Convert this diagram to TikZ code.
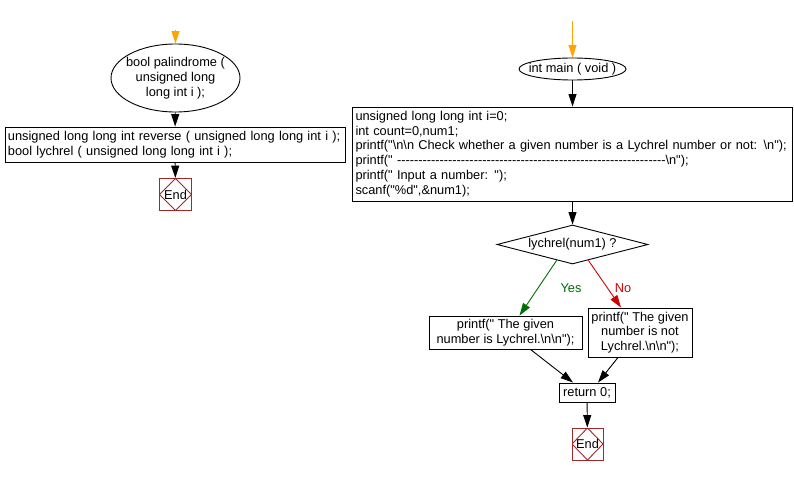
\documentclass[tikz,border=0pt]{standalone}
\usepackage{fontspec}
\setmainfont{Liberation Sans}[Ligatures=TeXOff]
\usetikzlibrary{shapes.geometric,arrows.meta,calc}

\definecolor{endred}{RGB}{160,40,40}
\definecolor{startorange}{RGB}{255,165,0}
\definecolor{yesgreen}{RGB}{0,110,0}
\definecolor{nored}{RGB}{210,0,0}
\newcommand{\bsn}{\textbackslash n}

\begin{document}
\begin{tikzpicture}[x=1pt, y=-1pt, line width=0.9pt,
    font=\fontsize{12.8}{14.7}\selectfont,
    box/.style={draw, inner ysep=0pt, inner xsep=3pt, align=left},
    term/.style={draw, ellipse, inner ysep=0pt, align=center},
    decide/.style={draw, diamond, aspect=4, inner sep=0pt,
                   minimum width=151pt, minimum height=39pt},
    stopbox/.style={draw=endred, minimum width=32pt, minimum height=32pt, inner sep=0pt,
        path picture={\draw[endred] (path picture bounding box.north) -- (path picture bounding box.east)
            -- (path picture bounding box.south) -- (path picture bounding box.west) -- cycle;}},
    arr/.style={-{Triangle[length=12.5pt,width=8pt]}}
]
    \useasboundingbox (0,0) rectangle (794,476);

    % left part: palindrome
    \coordinate (lstart) at (175.5,30);
    \node[term, inner xsep=-4.5pt, minimum width=129pt, minimum height=68pt] (pal) at (175.5,78)
        {bool palindrome (\\unsigned long\\long int i );};
    \node[box, text width=334pt, minimum height=35pt] (decl) at (175,144.5)
        {unsigned long long int reverse ( unsigned long long int i );\\
         bool lychrel ( unsigned long long int i );};
    \node[stopbox] (end1) at (175.5,194.5) {End};

    \draw[arr, startorange] (lstart) -- (pal);
    \draw[arr] (pal) -- (decl);
    \draw[arr] (decl) -- (end1);

    % right part: main
    \coordinate (mstart) at (572.5,21);
    \node[term, inner xsep=-6pt, minimum width=107pt, minimum height=22pt] (main) at (572.5,69)
        {int main ( void )};
    \node[box, text width=434pt, minimum height=94pt] (init) at (572.5,154)
        {unsigned long long int i=0;\\
         int count=0,num1;\\
         printf("\bsn\bsn{} Check whether a given number is a Lychrel number or not: \bsn");\\
         printf(" ---------------------------------------------------------------\bsn");\\
         printf(" Input a number: ");\\
         scanf("\%d",\&num1);};
    \node[decide] (dec) at (572.5,244.5) {lychrel(num1) ?};
    \node[box, align=center, minimum width=153pt, minimum height=33pt] (yesbox) at (505.5,332.5)
        {printf(" The given\\number is Lychrel.\bsn\bsn");};
    \node[box, align=center, minimum width=104pt, minimum height=49pt] (nobox) at (640,332.5)
        {printf(" The given\\number is not\\Lychrel.\bsn\bsn");};
    \node[box, minimum width=56pt, minimum height=19pt, align=center] (ret) at (587,392.5) {return 0;};
    \node[stopbox, minimum width=31pt] (end2) at (587.5,444) {End};

    \draw[arr, startorange] (mstart) -- (main);
    \draw[arr] (main) -- (init);
    \draw[arr] (init) -- (dec);
    \draw[arr, yesgreen] (dec.-135) -- ($(yesbox.north)+(14,0)$);
    \draw[arr, nored] (dec.-45) -- ($(nobox.north)+(-19,0)$);
    \node[text=yesgreen] (yes) at (571,288) {Yes};
    \node[text=nored] (no) at (623,288) {No};
    \draw[arr] ($(yesbox.south)+(25,0)$) -- ($(ret.north)+(-14,0)$);
    \draw[arr] ($(nobox.south)+(-22,0)$) -- ($(ret.north)+(11,0)$);
    \draw[arr] (ret) -- (end2);
\end{tikzpicture}
\end{document}
